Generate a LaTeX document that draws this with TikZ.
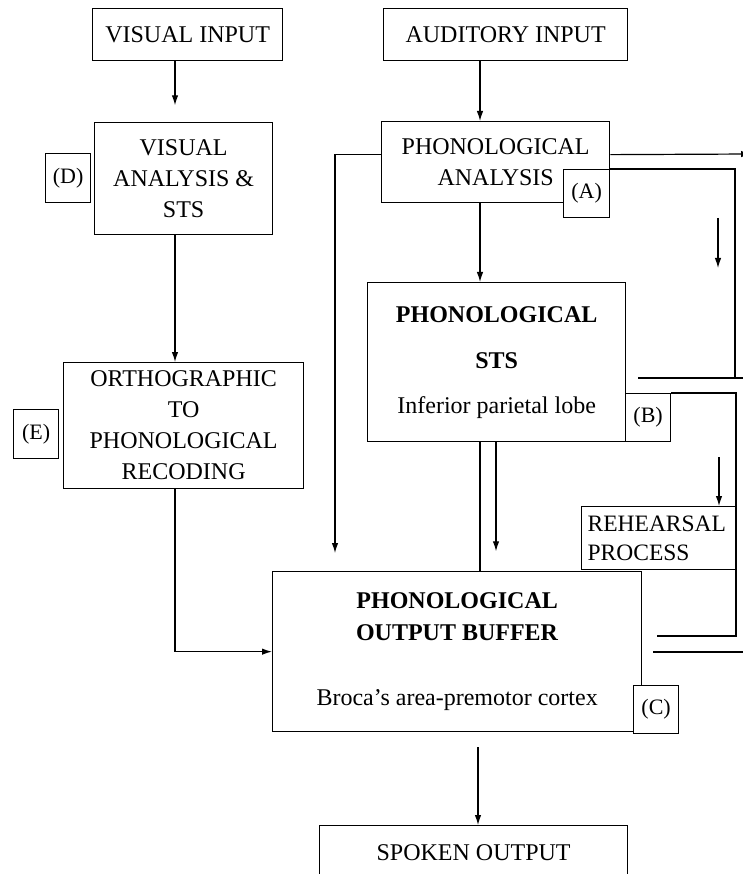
\documentclass[tikz,border=0pt]{standalone}
\usepackage{fontspec}
\setmainfont{Liberation Serif}
\usetikzlibrary{arrows.meta}
\begin{document}
\begin{tikzpicture}[x=1pt,y=-1pt,
  every node/.style={font=\fontsize{24}{31}\selectfont},
  box/.style={draw, line width=1.3pt, fill=white, anchor=north west,
              inner sep=0pt, align=center},
  tag/.style={box, font=\fontsize{22}{26}\selectfont},
  wire/.style={line width=1.2pt},
  arr/.style={wire, -{Latex[length=10pt,width=6.5pt]}}]

\useasboundingbox (0,0) rectangle (743,874);
\clip (0,0) rectangle (743,874);

% columns and free ends of connectors
\coordinate (xv) at (175,0);
\coordinate (xa) at (480,0);
\coordinate (xs) at (496,0);
\coordinate (lft) at (335,553);
\coordinate (eA) at (751,154);
\coordinate (fbA) at (735,378);
\coordinate (hA1) at (638,378);
\coordinate (hA2) at (750,378);
\coordinate (dA1) at (718,218);
\coordinate (dA2) at (718,268);
\coordinate (fbB) at (736,636);
\coordinate (fbB2) at (657,636);
\coordinate (r0) at (719,457);
\coordinate (hB1) at (653,652);
\coordinate (hB2) at (750,652);
\coordinate (o0) at (478,747);

% boxes
\node[box, minimum width=190, minimum height=52] (vi) at (92,8) {VISUAL INPUT};
\node[box, minimum width=244, minimum height=52] (ai) at (383,8) {AUDITORY INPUT};
\node[box, minimum width=178, minimum height=112] (va) at (94,122)
  {VISUAL\\ANALYSIS \&\\STS};
\node[tag, minimum width=45, minimum height=49] (d) at (45,153) {(D)};
\node[box, minimum width=240, minimum height=126] (ortho) at (63,362)
  {ORTHOGRAPHIC\\TO\\PHONOLOGICAL\\RECODING};
\node[tag, minimum width=45, minimum height=49] (e) at (13,409) {(E)};
\node[box, minimum width=228, minimum height=81] (pa) at (381,121)
  {PHONOLOGICAL\\ANALYSIS};
\node[tag, minimum width=46, minimum height=48] (a) at (563,169) {(A)};
\node[box, minimum width=258, minimum height=159] (sts) at (367,282)
  {\textbf{PHONOLOGICAL}\\[15pt]\textbf{STS}\\[14pt]Inferior parietal lobe};
\node[tag, minimum width=45, minimum height=48] (b) at (625,393) {(B)};
\node[box, minimum width=369, minimum height=160] (buf) at (272,571)
  {\textbf{PHONOLOGICAL}\\[1pt]\textbf{OUTPUT BUFFER}\\[34pt]Broca's area-premotor cortex};
\node[tag, minimum width=45, minimum height=48] (c) at (633,685) {(C)};
\node[box, text width=143, inner xsep=6pt, align=left, minimum height=63,
      font=\fontsize{23.5}{29}\selectfont] (rr) at (581,506) {REHEARSAL\\PROCESS};
\node[box, minimum width=308, minimum height=54] (so) at (319,825) {SPOKEN OUTPUT};

% connectors
\draw[arr] (vi.south -| xv) -- ++(0,44);
\draw[arr] (ai.south -| xa) -- (pa.north -| xa);
\draw[arr] (va.south -| xv) -- (ortho.north -| xv);
\draw[arr] (ortho.south -| xv) |- (buf.west);
\draw[arr] ([yshift=7.5pt]pa.west) -| (lft);
\draw[arr] ([yshift=7.5pt]pa.east) -- (eA);
\draw[wire] (a.north east) -| (fbA);
\draw[wire] (hA1) -- (hA2);
\draw[arr] (dA1) -- (dA2);
\draw[arr] (pa.south -| xa) -- (sts.north -| xa);
\draw[wire] (sts.south -| xa) -- (buf.north -| xa);
\draw[arr] (sts.south -| xs) -- ++(0,109);
\draw[wire] (b.north east) -| (fbB) -- (fbB2);
\draw[arr] (r0) -- (rr.north -| r0);
\draw[wire] (hB1) -- (hB2);
\draw[arr] (o0) -- (so.north -| o0);
\end{tikzpicture}
\end{document}
